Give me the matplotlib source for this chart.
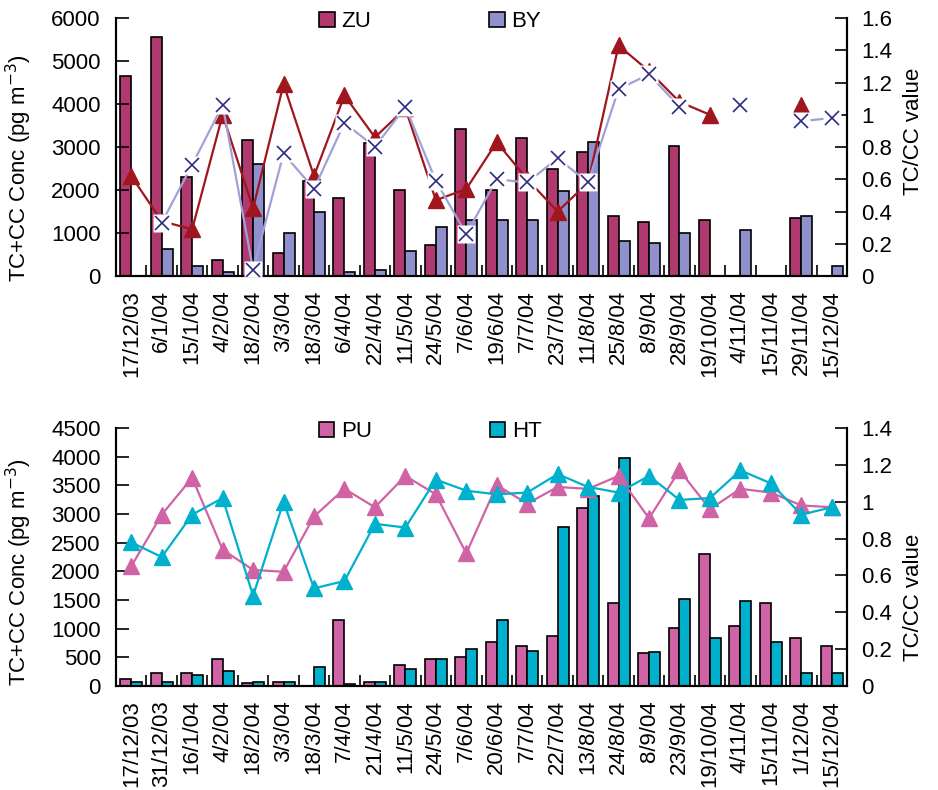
import numpy as np
import matplotlib
matplotlib.use("Agg")
import matplotlib.pyplot as plt
from matplotlib.ticker import FormatStrFormatter

nan = np.nan

plt.rcParams['font.family'] = ['Liberation Sans', 'DejaVu Sans']
plt.rcParams['font.size'] = 16

# upper panel: ZU / BY
top_dates = ["17/12/03", "6/1/04", "15/1/04", "4/2/04", "18/2/04", "3/3/04", "18/3/04",
             "6/4/04", "22/4/04", "11/5/04", "24/5/04", "7/6/04", "19/6/04", "7/7/04",
             "23/7/04", "11/8/04", "25/8/04", "8/9/04", "28/9/04", "19/10/04", "4/11/04",
             "15/11/04", "29/11/04", "15/12/04"]
zu_conc = [4650, 5570, 2300, 380, 3170, 530, 2220, 1820, 3100, 2010, 720, 3420,
           2000, 3220, 2500, 2880, 1390, 1250, 3020, 1300, nan, nan, 1340, nan]
by_conc = [nan, 620, 240, 100, 2600, 1000, 1490, 100, 150, 580, 1150, 1300,
           1300, 1300, 1970, 3120, 820, 770, 1000, nan, 1060, nan, 1390, 240]
zu_ratio = [0.62, 0.34, 0.29, 1.0, 0.42, 1.19, 0.62, 1.12, 0.86, 1.04, 0.47, 0.54,
            0.83, 0.60, 0.40, 0.58, 1.43, 1.27, 1.08, 1.0, nan, nan, 1.06, nan]
by_ratio = [nan, 0.33, 0.69, 1.06, 0.04, 0.76, 0.54, 0.95, 0.80, 1.05, 0.59, 0.26,
            0.60, 0.58, 0.73, 0.58, 1.16, 1.25, 1.05, nan, 1.06, nan, 0.96, 0.98]

# lower panel: PU / HT
bot_dates = ["17/12/03", "31/12/03", "16/1/04", "4/2/04", "18/2/04", "3/3/04", "18/3/04",
             "7/4/04", "21/4/04", "11/5/04", "24/5/04", "7/6/04", "20/6/04", "7/7/04",
             "22/7/04", "13/8/04", "24/8/04", "8/9/04", "23/9/04", "19/10/04", "4/11/04",
             "15/11/04", "1/12/04", "15/12/04"]
pu_conc = [120, 220, 220, 470, 45, 75, nan, 1150, 75, 360, 470, 500,
           760, 690, 870, 3100, 1440, 570, 1010, 2310, 1040, 1440, 830, 690]
ht_conc = [75, 75, 185, 260, 75, 75, 330, 40, 75, 290, 470, 650,
           1150, 615, 2780, 3320, 3970, 600, 1510, 830, 1480, 760, 220, 220]
pu_ratio = [0.65, 0.93, 1.13, 0.74, 0.63, 0.62, 0.92, 1.07, 0.97, 1.14, 1.04, 0.72,
            1.09, 0.99, 1.08, 1.07, 1.14, 0.91, 1.17, 0.96, 1.07, 1.05, 0.98, 0.97]
ht_ratio = [0.78, 0.70, 0.93, 1.02, 0.49, 1.0, 0.53, 0.57, 0.88, 0.86, 1.12, 1.06,
            1.04, 1.05, 1.15, 1.08, 1.05, 1.14, 1.01, 1.02, 1.17, 1.10, 0.93, 0.97]

ZU_BAR = "#B0396F"
BY_BAR = "#9090CC"
ZU_LINE = "#A0161E"
BY_LINE = "#A0A1D8"
BY_MARK = "#2E2A80"
PU_COL = "#D063A5"
HT_COL = "#00B0CC"

fig = plt.figure(figsize=(9.38, 7.9), dpi=100)
ax_top = fig.add_axes([0.1237, 0.6506, 0.7793, 0.3266])
ax_bot = fig.add_axes([0.1237, 0.1316, 0.7793, 0.3266])

w = 0.36


def style_axes(ax, ax2, labels, ymax, ystep, rmax, left_lab_y, right_lab_y):
    n = len(labels)
    x = np.arange(n)
    ax.set_xlim(-0.5, n - 0.5)
    ax.set_ylim(0, ymax)
    ax.set_yticks(np.arange(0, ymax + 1, ystep))
    ax2.set_ylim(0, rmax)
    ax2.set_yticks(np.arange(0, rmax + 0.001, 0.2))
    ax2.yaxis.set_major_formatter(FormatStrFormatter('%g'))
    ax.set_xticks(x)
    ax.set_xticklabels(labels, rotation=90)
    ax.set_xticks(np.arange(0.5, n - 0.5, 1), minor=True)
    ax.tick_params(axis='x', which='major', length=0, pad=10)
    ax.tick_params(axis='x', which='minor', direction='in', length=8, width=1.2)
    ax.tick_params(axis='y', direction='in', length=9, width=1.2, pad=11)
    ax2.tick_params(axis='y', direction='in', length=9, width=1.2, pad=10)
    for a in (ax, ax2):
        a.spines['top'].set_visible(False)
        for s in ('left', 'right', 'bottom'):
            a.spines[s].set_linewidth(1.5)
    ax.set_ylabel("TC+CC Conc (pg m$^{-3}$)")
    ax.yaxis.set_label_coords(-0.112, left_lab_y)
    ax2.set_ylabel("TC/CC value")
    ax2.yaxis.set_label_coords(1.076, right_lab_y)


# ---- upper panel ----
x = np.arange(len(top_dates))
ax2_top = ax_top.twinx()
ax_top.bar(x - w / 2, zu_conc, w, color=ZU_BAR, edgecolor='black', linewidth=1.2, label='ZU')
ax_top.bar(x + w / 2, by_conc, w, color=BY_BAR, edgecolor='black', linewidth=1.2, label='BY')

ax2_top.plot(x, zu_ratio, color=ZU_LINE, lw=1.6, marker='^', ms=11, mec=ZU_LINE, zorder=2)
ax2_top.plot(x, by_ratio, color=BY_LINE, lw=1.6, zorder=3)
# white square backing behind each cross marker
ax2_top.plot(x, by_ratio, ls='none', marker='s', ms=13, mfc='white', mec='none', zorder=4)
ax2_top.plot(x, by_ratio, ls='none', marker='x', ms=10, mew=1.2, color=BY_MARK, zorder=5)

style_axes(ax_top, ax2_top, top_dates, 6000, 1000, 1.6, 0.42, 0.56)
ax_top.legend(loc='center', bbox_to_anchor=(0.43, 0.985), ncol=2, frameon=False,
              handlelength=0.7, handleheight=0.7, handletextpad=0.3, columnspacing=5.3,
              borderaxespad=0)

# ---- lower panel ----
x = np.arange(len(bot_dates))
ax2_bot = ax_bot.twinx()
ax_bot.bar(x - w / 2, pu_conc, w, color=PU_COL, edgecolor='black', linewidth=1.2, label='PU')
ax_bot.bar(x + w / 2, ht_conc, w, color=HT_COL, edgecolor='black', linewidth=1.2, label='HT')

ax2_bot.plot(x, pu_ratio, color=PU_COL, lw=1.6, marker='^', ms=11, mec=PU_COL)
ax2_bot.plot(x, ht_ratio, color=HT_COL, lw=1.6, marker='^', ms=11, mec=HT_COL)

style_axes(ax_bot, ax2_bot, bot_dates, 4500, 500, 1.4, 0.44, 0.345)
ax_bot.legend(loc='center', bbox_to_anchor=(0.43, 0.985), ncol=2, frameon=False,
              handlelength=0.7, handleheight=0.7, handletextpad=0.3, columnspacing=5.3,
              borderaxespad=0)

fig.savefig("out.png", dpi=100)
